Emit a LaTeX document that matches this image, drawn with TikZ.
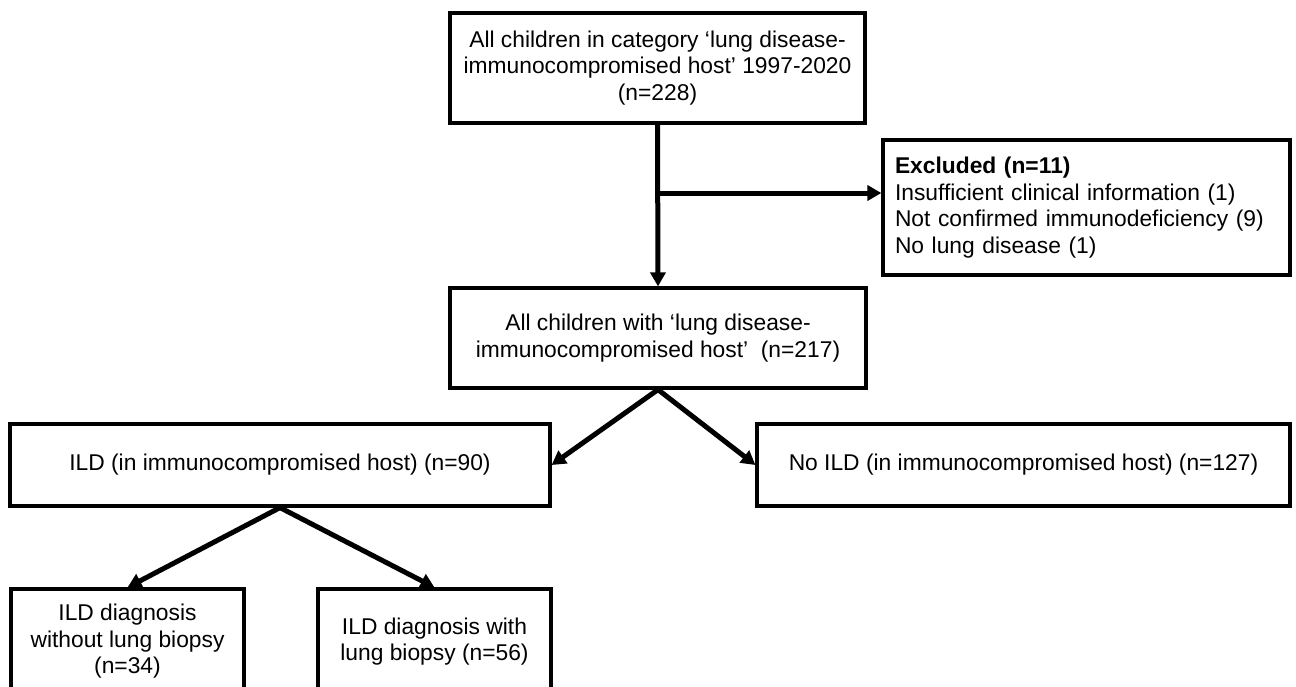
\documentclass[tikz,border=0pt]{standalone}
\usepackage{fontspec}
\setmainfont{Liberation Sans}
\usetikzlibrary{arrows.meta,positioning}

\begin{document}
\begin{tikzpicture}[x=1pt, y=-1pt, font=\fontsize{22.8}{26.5}\selectfont,
	box/.style={draw, line width=3.2pt, align=center, inner sep=0pt},
	link/.style={line width=5pt, -{Triangle[length=14pt,width=15pt]}}]
	\clip (0,0) rectangle (1296,686);
	\useasboundingbox (0,0) rectangle (1296,686);
	\node[box, minimum width=415pt, minimum height=110pt] (all) at (657.5,68) {All children in category ‘lung disease-\\immunocompromised host’ 1997-2020\\(n=228)};
	\node[box, align=left, text width=383pt, inner xsep=12pt, minimum height=135pt] (excl) at (1086.5,207.5) {\textbf{Excluded (n=11)}\\Insufficient clinical information (1)\\Not confirmed immunodeficiency (9)\\No lung disease (1)};
	\node[box, minimum width=416pt, minimum height=100pt] (cohort) at (658,338) {All children with ‘lung disease-\\immunocompromised host’~ (n=217)};
	\node[box, minimum width=540pt, minimum height=82pt] (ild) at (280,465) {ILD (in immunocompromised host) (n=90)};
	\node[box, minimum width=533pt, minimum height=82pt] (noild) at (1023.5,465) {No ILD (in immunocompromised host) (n=127)};
	\node[box, minimum width=233pt, minimum height=105pt] (nobiopsy) at (127.5,641.5) {ILD diagnosis\\without lung biopsy\\(n=34)};
	\node[box, minimum width=233pt, minimum height=105pt] (biopsy) at (434.5,641.5) {ILD diagnosis with\\lung biopsy (n=56)};
	\coordinate (branch) at (657.5,193);
	\draw[link] (all.south) -- (cohort.north);
	\draw[link] (branch) -- (branch -| excl.west);
	\draw[link] (cohort.south) -- (ild.east);
	\draw[link] (cohort.south) -- (noild.west);
	\draw[link] (ild.south) -- (nobiopsy.north);
	\draw[link] (ild.south) -- (biopsy.north);
\end{tikzpicture}
\end{document}
